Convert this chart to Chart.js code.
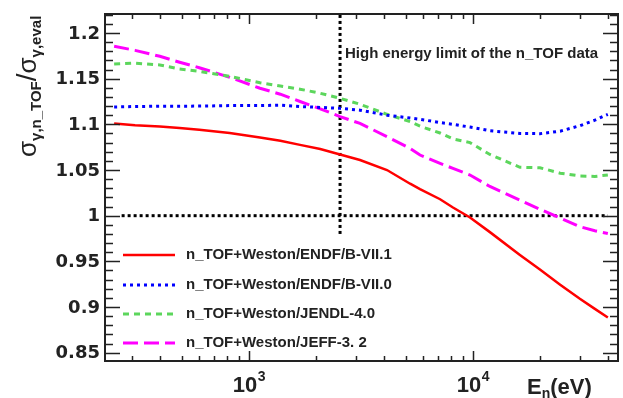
<!DOCTYPE html>
<html>
<head>
<meta charset="utf-8">
<script src="https://cdn.jsdelivr.net/npm/chart.js@4.4.1/dist/chart.umd.min.js"></script>
<style>
  html, body { margin: 0; padding: 0; background: #fff; }
  #chart { display: block; }
</style>
</head>
<body>
<canvas id="chart" width="623" height="398"></canvas>
<script>
// neutron energy (eV) grid shared by all ratio curves
const energies = [250, 310, 400, 490, 600, 820, 1120, 1380, 1690, 2080, 2550, 3130, 4130, 5240, 5800, 7130, 8140, 9700, 11900, 16200, 19900, 24500, 30000, 35000, 40000];

const endfB71 = [1.101, 1.099, 1.0975, 1.096, 1.094, 1.0905, 1.0855, 1.082, 1.0775, 1.073, 1.067, 1.061, 1.050, 1.035, 1.029, 1.018, 1.009, 0.998, 0.982, 0.957, 0.941, 0.9245, 0.909, 0.898, 0.8885];
const endfB70 = [1.119, 1.1195, 1.1198, 1.1198, 1.120, 1.1205, 1.1205, 1.121, 1.1195, 1.1185, 1.1175, 1.1155, 1.110, 1.107, 1.1055, 1.102, 1.100, 1.097, 1.093, 1.090, 1.0898, 1.0925, 1.0985, 1.1045, 1.111];
const jendl40 = [1.166, 1.167, 1.165, 1.1605, 1.158, 1.1525, 1.1456, 1.142, 1.1385, 1.134, 1.1285, 1.122, 1.111, 1.103, 1.098, 1.0905, 1.084, 1.080, 1.067, 1.053, 1.0525, 1.0465, 1.0435, 1.043, 1.0445];
const jeff32 = [1.1855, 1.181, 1.1745, 1.168, 1.162, 1.1515, 1.1395, 1.133, 1.125, 1.117, 1.1085, 1.101, 1.0865, 1.0737, 1.0664, 1.0573, 1.0518, 1.0445, 1.032, 1.0171, 1.007, 0.9975, 0.988, 0.9835, 0.9805];

const seriesLabels = [
  "n_TOF+Weston/ENDF/B-VII.1",
  "n_TOF+Weston/ENDF/B-VII.0",
  "n_TOF+Weston/JENDL-4.0",
  "n_TOF+Weston/JEFF-3. 2"
];

// dotted guide lines: ratio = 1 and the n_TOF upper energy limit
const unityX = [270, 40000];
const unityY = [1, 1];
const limitX = [2550, 2550];
const limitY = [0.98, 1.2208];

const yTicks = [0.85, 0.9, 0.95, 1, 1.05, 1.1, 1.15, 1.2];
const yTickLabels = ["0.85", "0.9", "0.95", "1", "1.05", "1.1", "1.15", "1.2"];
const xDecades = [1000, 10000];
const xDecadeExp = ["3", "4"];

const xMin = 227.6, xMax = 44400;
const yMin = 0.8409, yMax = 1.2208;

const pts = (xs, ys) => xs.map((v, i) => ({ x: v, y: ys[i] }));

const styles = [
  { color: "#ff0000", width: 2.5, dash: [] },
  { color: "#0000ff", width: 3, dash: [3, 4] },
  { color: "#5cd65c", width: 3, dash: [6, 5] },
  { color: "#ff00ff", width: 3, dash: [15, 6] }
];
const curves = [endfB71, endfB70, jendl40, jeff32];

const datasets = curves.map((vals, i) => ({
  label: seriesLabels[i],
  data: pts(energies, vals),
  borderColor: styles[i].color,
  borderWidth: styles[i].width,
  borderDash: styles[i].dash,
  borderCapStyle: "butt",
  pointRadius: 0,
  tension: 0,
  fill: false
}));

datasets.push({
  data: pts(unityX, unityY),
  borderColor: "#000",
  borderWidth: 3,
  borderDash: [3, 3],
  pointRadius: 0
});
datasets.push({
  data: pts(limitX, limitY),
  borderColor: "#000",
  borderWidth: 3,
  borderDash: [3, 3],
  pointRadius: 0
});

const FONT = "'Liberation Sans', Arial, sans-serif";

const decorations = {
  id: "decorations",
  afterDraw(chart) {
    const { ctx, chartArea: a, scales: { x, y } } = chart;
    ctx.save();

    // frame
    ctx.strokeStyle = "#222";
    ctx.lineWidth = 2;
    ctx.strokeRect(a.left, a.top, a.right - a.left, a.bottom - a.top);

    // inward ticks
    ctx.lineWidth = 1.5;
    ctx.beginPath();
    for (let i = Math.ceil(yMin * 100); i <= Math.floor(yMax * 100); i++) {
      const py = Math.round(y.getPixelForValue(i / 100)) + 0.5;
      const len = i % 5 === 0 ? 15 : 8;
      ctx.moveTo(a.left, py); ctx.lineTo(a.left + len, py);
      ctx.moveTo(a.right, py); ctx.lineTo(a.right - len, py);
    }
    for (const dec of [100, 1000, 10000]) {
      for (let m = 1; m < 10; m++) {
        const v = m * dec;
        if (v < xMin || v > xMax) continue;
        const px = Math.round(x.getPixelForValue(v)) + 0.5;
        const len = m === 1 ? 10 : 5;
        ctx.moveTo(px, a.bottom); ctx.lineTo(px, a.bottom - len);
        ctx.moveTo(px, a.top); ctx.lineTo(px, a.top + len);
      }
    }
    ctx.stroke();

    ctx.fillStyle = "#222";

    // y tick labels
    ctx.font = "bold 18px 'DejaVu Sans', sans-serif";
    ctx.textAlign = "right";
    ctx.textBaseline = "middle";
    yTicks.forEach((v, i) => ctx.fillText(yTickLabels[i], 100, y.getPixelForValue(v) + 1));

    // x decade labels 10^n
    ctx.textAlign = "left";
    ctx.textBaseline = "alphabetic";
    xDecades.forEach((v, i) => {
      ctx.font = "bold 22px " + FONT;
      const w1 = ctx.measureText("10").width;
      ctx.font = "bold 14px " + FONT;
      const w2 = ctx.measureText(xDecadeExp[i]).width;
      const x0 = x.getPixelForValue(v) - (w1 + w2) / 2;
      ctx.font = "bold 22px " + FONT;
      ctx.fillText("10", x0, 392);
      ctx.font = "bold 14px " + FONT;
      ctx.fillText(xDecadeExp[i], x0 + w1 + 0.5, 381);
    });

    // x title E_n(eV)
    let cx = 527;
    ctx.font = "bold 22px " + FONT;
    ctx.fillText("E", cx, 394);
    cx += ctx.measureText("E").width;
    ctx.font = "bold 14px " + FONT;
    ctx.fillText("n", cx, 398);
    cx += ctx.measureText("n").width;
    ctx.font = "bold 22px " + FONT;
    ctx.fillText("(eV)", cx, 394);

    // y title, rotated
    ctx.save();
    ctx.translate(36, 157);
    ctx.rotate(-Math.PI / 2);
    const parts = [
      ["σ", "26px " + FONT, 0],
      ["γ,n_TOF", "bold 15px " + FONT, 5],
      ["/", "28px " + FONT, 0],
      ["σ", "26px " + FONT, 0],
      ["γ,eval", "bold 15px " + FONT, 5]
    ];
    let tx = 0;
    parts.forEach(([t, f, dy]) => {
      ctx.font = f;
      ctx.fillText(t, tx, dy);
      tx += ctx.measureText(t).width;
    });
    ctx.restore();

    // annotation
    ctx.font = "bold 15px " + FONT;
    ctx.fillText("High energy limit of the n_TOF data", 345, 58);

    // legend
    const legendY = [255, 285, 314, 343];
    seriesLabels.forEach((lab, i) => {
      const s = styles[i];
      ctx.beginPath();
      ctx.strokeStyle = s.color;
      ctx.lineWidth = s.width;
      ctx.setLineDash(s.dash);
      ctx.moveTo(123, legendY[i]);
      ctx.lineTo(175, legendY[i]);
      ctx.stroke();
      ctx.setLineDash([]);
      ctx.fillStyle = "#222";
      ctx.font = "bold 15px " + FONT;
      ctx.textBaseline = "middle";
      ctx.fillText(lab, 186, legendY[i]);
    });

    ctx.restore();
  }
};

new Chart(document.getElementById("chart"), {
  type: "line",
  data: { datasets },
  options: {
    responsive: false,
    animation: false,
    devicePixelRatio: 1,
    layout: { padding: { top: 14, right: 5, left: 0, bottom: 0 } },
    plugins: { legend: { display: false }, tooltip: { enabled: false } },
    scales: {
      x: {
        type: "logarithmic",
        min: xMin,
        max: xMax,
        ticks: { display: false },
        grid: { display: false, drawTicks: false },
        border: { display: false },
        afterFit(s) { s.height = 37; }
      },
      y: {
        type: "linear",
        min: yMin,
        max: yMax,
        ticks: { display: false },
        grid: { display: false, drawTicks: false },
        border: { display: false },
        afterFit(s) { s.width = 105; }
      }
    }
  },
  plugins: [decorations]
});
</script>
</body>
</html>
